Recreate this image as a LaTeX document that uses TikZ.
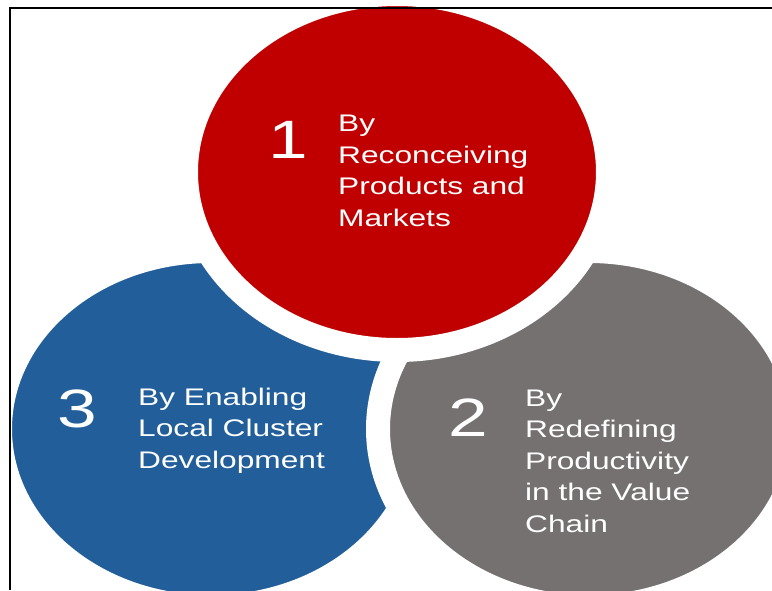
\documentclass[tikz,border=0pt]{standalone}
\usepackage{fontspec}
\setmainfont{Liberation Sans}
\newfontfamily\widefont[FakeStretch=1.32]{Liberation Sans}
\usetikzlibrary{shapes.geometric}
\definecolor{cred}{RGB}{192,0,0}
\definecolor{cblue}{RGB}{33,94,154}
\definecolor{cgray}{RGB}{118,113,113}
\tikzset{
  blob/.style={ellipse, inner sep=0pt, outer sep=0pt, draw=white, line width=24pt,
    minimum width=422pt, minimum height=356pt},
  numtext/.style={text=white, inner sep=0pt, anchor=base, font=\widefont\fontsize{54}{54}\selectfont},
  bodytext/.style={text=white, inner sep=0pt, anchor=base west, align=left,
    font=\widefont\fontsize{24}{31.5}\selectfont},
  frameline/.style={draw=black, line width=2pt}
}
\begin{document}
\begin{tikzpicture}[x=1pt, y=-1pt]
\useasboundingbox (0,0) rectangle (772,590);
\node[blob, fill=cblue] (blue) at (211,429) {};
\node[blob, fill=cgray] (gray) at (589,429) {};
\node[blob, fill=cred] (red) at (397,172) {};
\node[numtext] (n1) at (288,158) {1};
\node[bodytext] (t1) at (338,226) {By\\Reconceiving\\Products and\\Markets};
\node[numtext] (n3) at (77,427) {3};
\node[bodytext] (t3) at (138,468) {By Enabling\\Local Cluster\\Development};
\node[numtext] (n2) at (468,436) {2};
\node[bodytext] (t2) at (525,532) {By\\Redefining\\Productivity\\in the Value\\Chain};
\draw[frameline] (9.5,590) -- (9.5,7.5) -- (772,7.5);
\end{tikzpicture}
\end{document}
